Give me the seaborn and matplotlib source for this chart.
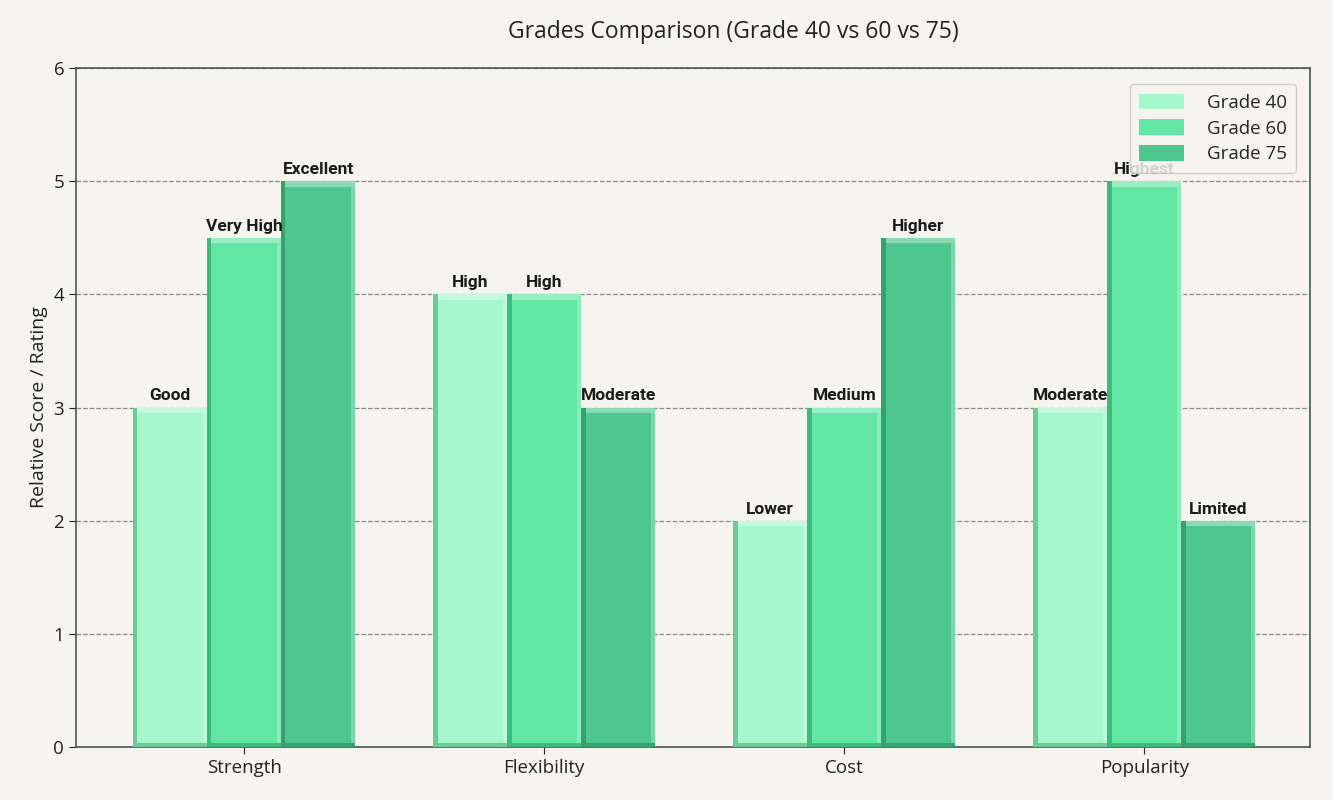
import pandas as pd
import seaborn as sns
import matplotlib.pyplot as plt
from matplotlib.patches import Rectangle

categories = ['Strength', 'Flexibility', 'Cost', 'Popularity']
grades = ['Grade 40', 'Grade 60', 'Grade 75']
grade40 = [3, 4, 2, 3]
grade60 = [4.5, 4, 3, 5]
grade75 = [5, 3, 4.5, 2]
labels40 = ['Good', 'High', 'Lower', 'Moderate']
labels60 = ['Very High', 'High', 'Medium', 'Highest']
labels75 = ['Excellent', 'Moderate', 'Higher', 'Limited']

colors = ['#a6f7cb', '#62e6a4', '#4ec78f']
shades = ['#6fc898', '#3fb97c', '#36a06f']

rows = []
for g, vals, labs in zip(grades, [grade40, grade60, grade75], [labels40, labels60, labels75]):
    for c, v, l in zip(categories, vals, labs):
        rows.append({'Category': c, 'Grade': g, 'Score': v, 'Label': l})
df = pd.DataFrame(rows)

sns.set_style('white')
plt.rcParams['font.family'] = ['Open Sans', 'DejaVu Sans']

fig = plt.figure(figsize=(13.33, 8), dpi=100, facecolor='#f5f4ee')
ax = fig.add_axes([0.057, 0.066, 0.926, 0.849])
ax.set_facecolor('#f5f4ee')

sns.barplot(data=df, x='Category', y='Score', hue='Grade', palette=colors,
            width=0.74, saturation=1, ax=ax, zorder=2, linewidth=0)

# bevel look and value labels
for gi, cont in enumerate(ax.containers):
    labs = df[df['Grade'] == grades[gi]]['Label'].tolist()
    for p, lab in zip(cont.patches, labs):
        x, w, h = p.get_x(), p.get_width(), p.get_height()
        ax.add_patch(Rectangle((x, 0), w * 0.06, h, color=shades[gi], lw=0, zorder=3))
        ax.add_patch(Rectangle((x, 0), w, 0.04, color=shades[gi], lw=0, zorder=3))
        ax.add_patch(Rectangle((x + w * 0.06, h - 0.05), w * 0.94, 0.05,
                               color='white', alpha=0.35, lw=0, zorder=3))
        ax.add_patch(Rectangle((x + w * 0.94, 0.04), w * 0.06, h - 0.09,
                               color='white', alpha=0.25, lw=0, zorder=3))
        ax.annotate(lab, (x + w / 2, h), xytext=(0, 3), textcoords='offset points',
                    ha='center', va='bottom', fontsize=12.5, fontweight='bold',
                    family=['Roboto', 'DejaVu Sans'], color='#1a1a1a', zorder=4)

ax.set_ylim(0, 6)
ax.set_xlim(-0.56, 3.553)
ax.set_yticks(range(0, 7))
ax.yaxis.grid(True, linestyle='--', color='#8a8a8a', linewidth=0.9, zorder=0)
ax.set_axisbelow(True)
for s in ax.spines.values():
    s.set_color('#45584a')
    s.set_linewidth(1.2)
ax.tick_params(axis='both', labelsize=13.5, colors='#222222', length=5, width=0.8,
               left=True, bottom=True)
ax.set_xlabel('')
ax.set_ylabel('Relative Score / Rating', fontsize=14, color='#222222')
fig.suptitle('Grades Comparison (Grade 40 vs 60 vs 75)', fontsize=16.5, y=0.975,
             x=0.55, color='#222222')

leg = ax.legend(loc='upper right', fontsize=13.5, frameon=True, fancybox=True,
                handlelength=2.4, handleheight=0.9, borderpad=0.5, labelspacing=0.4,
                handletextpad=1.2, bbox_to_anchor=(0.996, 0.99))
leg.get_frame().set_facecolor('#f5f4ee')
leg.get_frame().set_edgecolor('#c8c8c8')
leg.get_frame().set_alpha(0.85)
leg.set_zorder(5)

fig.savefig('out.png', dpi=100, facecolor=fig.get_facecolor())
